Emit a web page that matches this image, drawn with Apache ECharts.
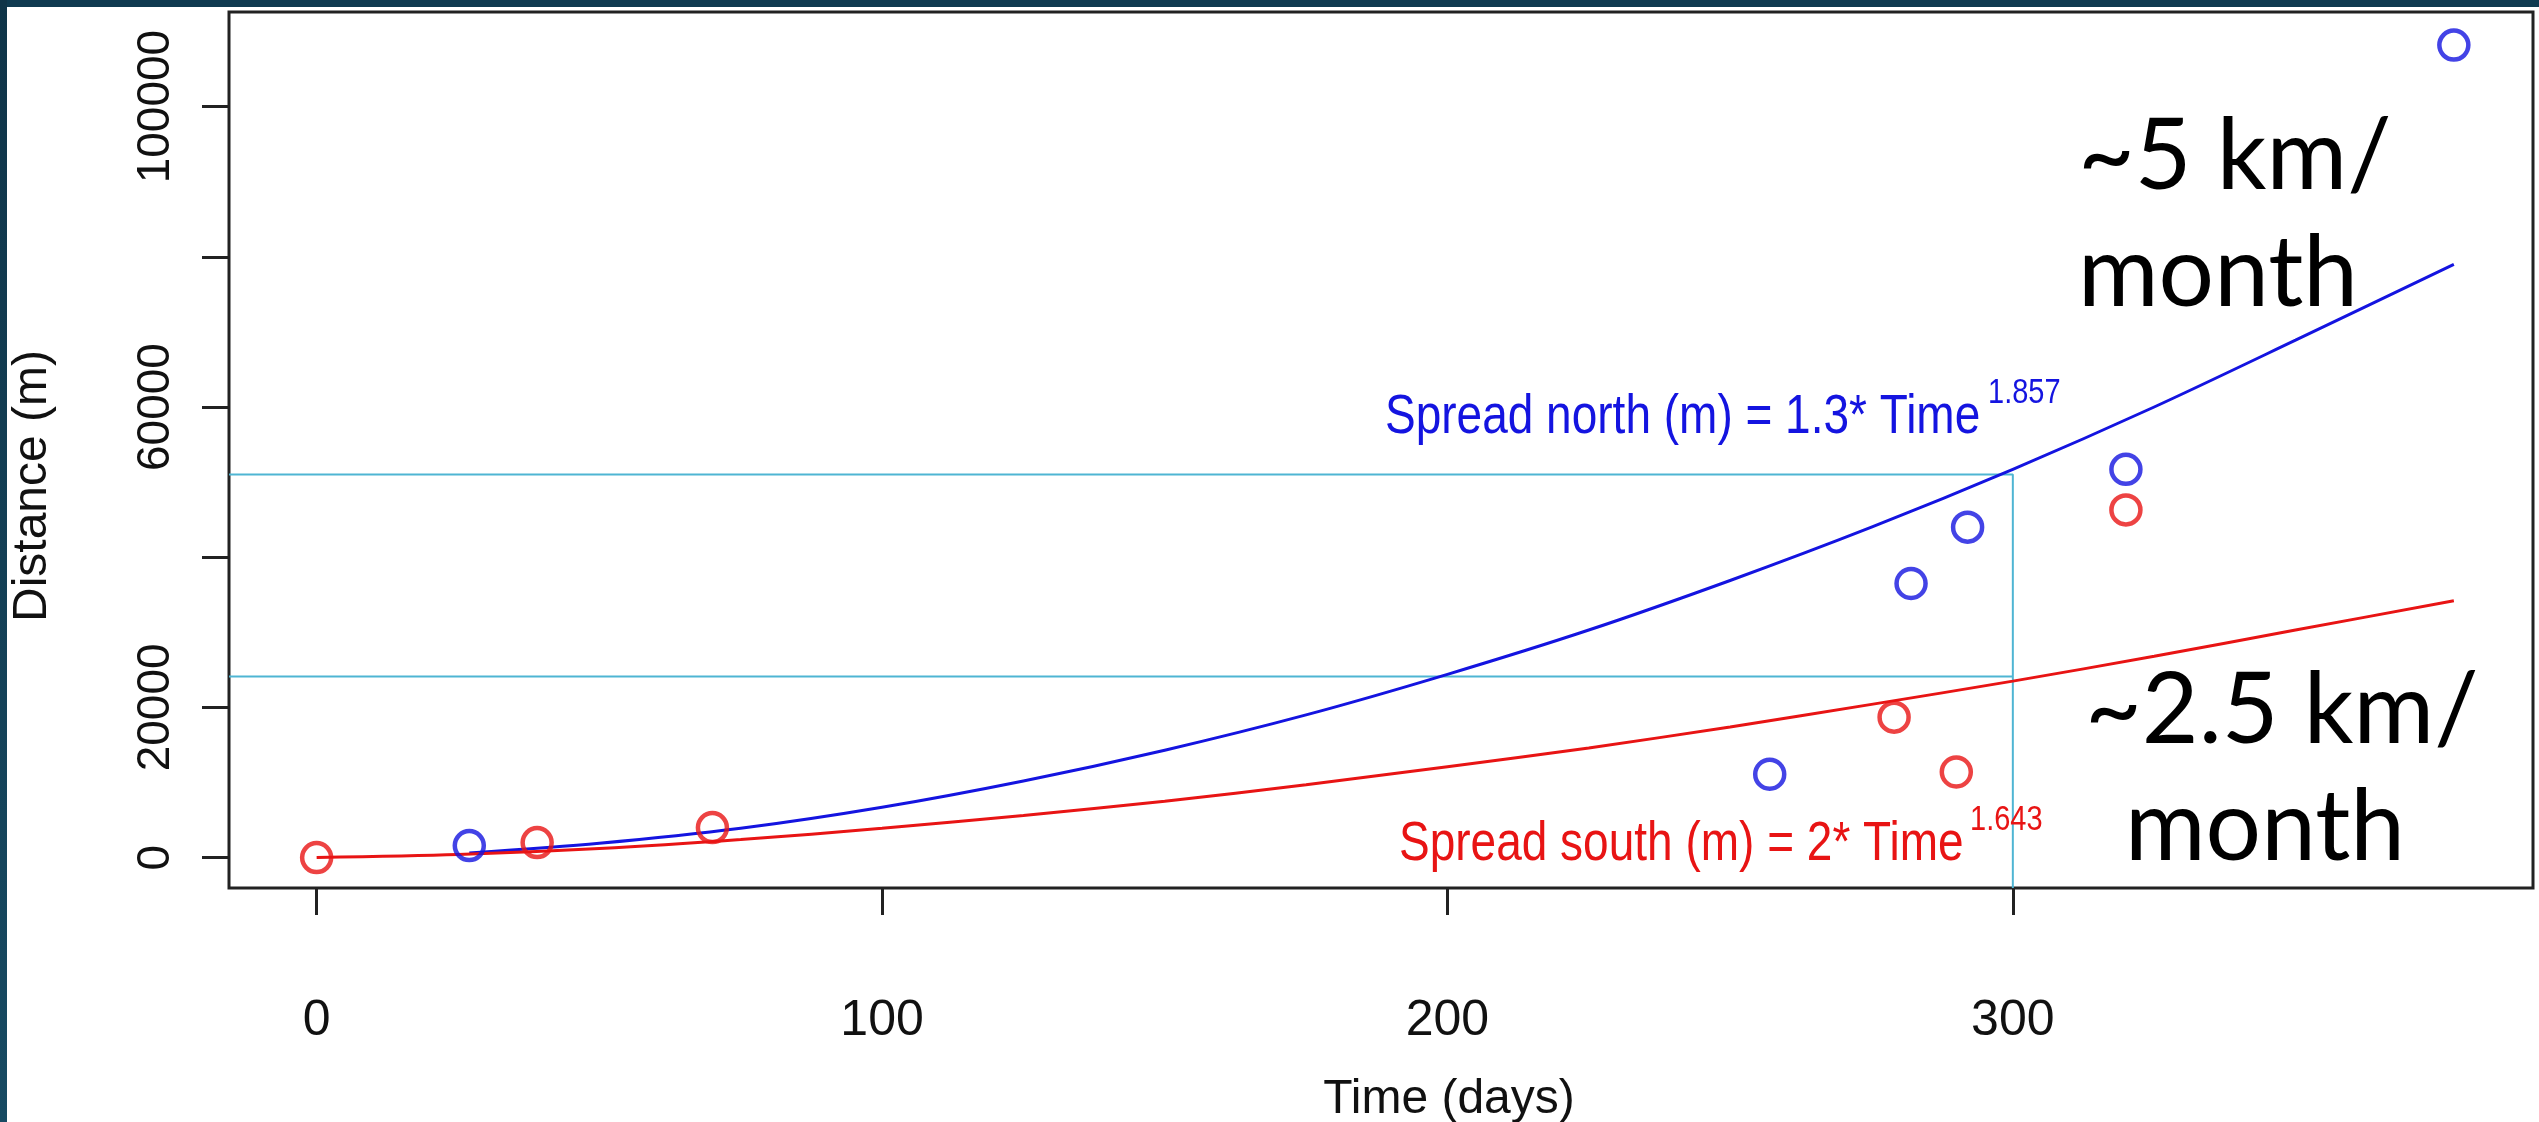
<!DOCTYPE html>
<html>
<head>
<meta charset="utf-8">
<title>Spread north and south</title>
<script src="https://cdn.jsdelivr.net/npm/echarts@6/dist/echarts.min.js"></script>
<style>
html, body { margin: 0; padding: 0; background: #fff; }
#main { width: 2539px; height: 1122px; }
.edge-top { position: absolute; left: 0; top: 0; width: 2539px; height: 7px; background: #0f3a50; }
.edge-left { position: absolute; left: 0; top: 0; width: 7px; height: 1122px; background: linear-gradient(#0f3448, #174a62); }
</style>
</head>
<body>
<div id="main"></div>
<div class="edge-top"></div>
<div class="edge-left"></div>
<script>
// observed spread (days, metres)
var northTime = [27, 257, 282, 292, 320, 378];
var northDist = [1600, 11100, 36500, 44000, 51700, 108200];
var southTime = [0, 39, 70, 279, 290, 320];
var southDist = [0, 2000, 4000, 18700, 11400, 46300];

// fitted curves
var northFitTime = [27, 50, 75, 100, 125, 150, 175, 200, 225, 250, 275, 300, 325, 350, 378];
var northFit = [600, 1900, 3900, 6700, 10200, 14300, 19000, 24400, 30300, 36900, 44000, 51700, 60000, 68900, 79000];
var southFitTime = [0, 25, 50, 75, 100, 125, 150, 175, 200, 225, 250, 275, 300, 325, 350, 378];
var southFit = [0, 400, 1200, 2400, 3900, 5600, 7500, 9700, 12100, 14600, 17400, 20400, 23500, 26800, 30300, 34200];

// guide lines at day 300
var guideTime = 300;
var guideNorth = 51000;
var guideSouth = 24100;

// ticks
var xTicks = [0, 100, 200, 300];
var yTicks = [0, 20000, 40000, 60000, 80000, 100000];
var yLabels = [0, 20000, 60000, 100000];

var xMin = -15.5, xMax = 392;
var yMin = -4050, yMax = 112600;

var blue = '#1414e0';
var red = '#e81414';
var cyan = '#4fb5d3';
var ink = '#111';
var sans = "'Liberation Sans', Arial, sans-serif";
var stretch = 1.2; // the R plot is pulled taller than it is wide

function pairs(xs, ys) {
    return xs.map(function (x, i) { return [x, ys[i]]; });
}

// text placed by its baseline, pulled tall like the rest of the plot
function note(text, x, baseline, size, color) {
    return {
        type: 'text', z: 10,
        x: x, y: baseline - 0.3465 * size * stretch,
        scaleY: stretch,
        style: { text: text, x: 0, y: 0, font: size + 'px ' + sans, fill: color, textVerticalAlign: 'middle' }
    };
}

function big(text, x, y) {
    return { type: 'text', z: 10, style: { text: text, x: x, y: y, font: '98px Lato, sans-serif', fill: '#000', textVerticalAlign: 'middle' } };
}

var myChart = echarts.init(document.getElementById('main'));

var option = {
    animation: false,
    backgroundColor: '#fff',
    grid: {
        left: 229, top: 12, right: 6, bottom: 234,
        show: true,
        borderColor: '#222',
        borderWidth: 3,
        outerBoundsMode: 'none'
    },
    xAxis: {
        type: 'value',
        min: xMin,
        max: xMax,
        axisLine: { show: false, onZero: false },
        splitLine: { show: false },
        axisTick: { customValues: xTicks, length: 27, lineStyle: { color: '#222', width: 3 } },
        axisLabel: {
            customValues: xTicks, margin: 108, fontSize: 50, fontFamily: sans, color: ink,
            formatter: function (v) { return String(v); }
        },
        name: 'Time (days)',
        nameLocation: 'middle',
        nameGap: 188,
        nameTextStyle: { fontSize: 48, fontFamily: sans, color: ink, padding: [0, 0, 0, 136] }
    },
    yAxis: {
        type: 'value',
        min: yMin,
        max: yMax,
        axisLine: { show: false, onZero: false },
        splitLine: { show: false },
        axisTick: { customValues: yTicks, length: 27, lineStyle: { color: '#222', width: 3 } },
        axisLabel: {
            customValues: yLabels, rotate: 90, margin: 50, fontSize: 46, fontFamily: sans, color: ink,
            formatter: function (v) { return String(v); }
        },
        name: 'Distance (m)',
        nameLocation: 'middle',
        nameRotate: 90,
        nameGap: 172,
        nameTextStyle: { fontSize: 48, fontFamily: sans, color: ink, padding: [0, 72, 0, 0] }
    },
    series: [
        {
            // guide: north level at day 300 and the drop to the axis
            type: 'line',
            data: [[xMin, guideNorth], [guideTime, guideNorth], [guideTime, yMin]],
            showSymbol: false,
            silent: true,
            lineStyle: { color: cyan, width: 2 },
            z: 1
        },
        {
            type: 'line',
            data: [[xMin, guideSouth], [guideTime, guideSouth]],
            showSymbol: false,
            silent: true,
            lineStyle: { color: cyan, width: 2 },
            z: 1
        },
        {
            name: 'north fit',
            type: 'line',
            data: pairs(northFitTime, northFit),
            showSymbol: false,
            smooth: 0.3,
            lineStyle: { color: blue, width: 3 },
            z: 2
        },
        {
            name: 'south fit',
            type: 'line',
            data: pairs(southFitTime, southFit),
            showSymbol: false,
            smooth: 0.3,
            lineStyle: { color: red, width: 3 },
            z: 2
        },
        {
            name: 'north',
            type: 'scatter',
            data: pairs(northTime, northDist),
            symbol: 'circle',
            symbolSize: 29,
            itemStyle: { color: 'rgba(0,0,0,0)', borderColor: blue, borderWidth: 4.5 },
            z: 3
        },
        {
            name: 'south',
            type: 'scatter',
            data: pairs(southTime, southDist),
            symbol: 'circle',
            symbolSize: 29,
            itemStyle: { color: 'rgba(0,0,0,0)', borderColor: red, borderWidth: 4.5 },
            z: 3
        }
    ],
    graphic: [
        // fit equations
        note('Spread north (m) = 1.3* Time', 1385, 437, 46, blue),
        note('1.857', 1988, 405, 29, blue),
        note('Spread south (m) = 2* Time', 1399, 864, 46, red),
        note('1.643', 1970, 832, 29, red),
        // rate notes
        big('~5 km/', 2078, 157),
        big('month', 2078, 274),
        big('~2.5 km/', 2085, 711),
        big('month', 2125, 828)
    ]
};

myChart.setOption(option);
</script>
</body>
</html>
